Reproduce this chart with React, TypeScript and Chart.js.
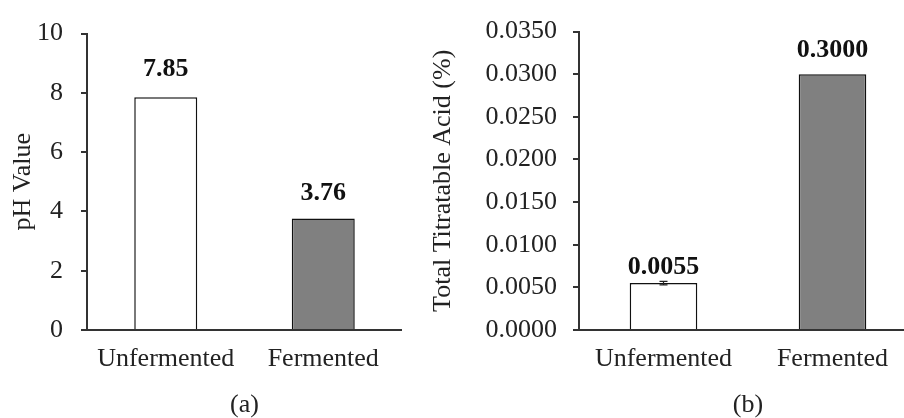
import React, { useEffect, useRef } from "react";
import { Chart, registerables } from "chart.js";

Chart.register(...registerables);

const categories = ["Unfermented", "Fermented"];
const phValues = [7.85, 3.76];
const phLabels = ["7.85", "3.76"];
const ttaValues = [0.0055, 0.03];
const ttaLabels = ["0.0055", "0.3000"];
const ttaErrors = [0.0002, 0];
const phAxis = { min: 0, max: 10, step: 2 };
const ttaAxis = { min: 0, max: 0.035, step: 0.005 };
const barColors = ["#ffffff", "#808080"];

const FONT = "'Liberation Serif', 'Times New Roman', serif";
const TEXT = "#222222";
const AXIS = "#333333";

const overlayPlugin = {
  id: "overlay",
  afterDatasetsDraw(chart: any, _args: any, opts: any) {
    const ctx = chart.ctx;
    const meta = chart.getDatasetMeta(0);
    const yScale = chart.scales.y;
    const area = chart.chartArea;
    ctx.save();
    // x axis line extended left by the tick length
    ctx.strokeStyle = AXIS;
    ctx.lineWidth = 2;
    ctx.beginPath();
    ctx.moveTo(area.left - 6, area.bottom);
    ctx.lineTo(area.right, area.bottom);
    ctx.stroke();
    // error bars
    const errs: number[] = opts.errors || [];
    const vals: number[] = chart.data.datasets[0].data;
    ctx.lineWidth = 1.2;
    ctx.strokeStyle = "#222";
    meta.data.forEach((bar: any, i: number) => {
      const e = errs[i];
      if (!e) return;
      const yTop = yScale.getPixelForValue(vals[i] + e);
      const yBot = yScale.getPixelForValue(vals[i] - e);
      ctx.beginPath();
      ctx.moveTo(bar.x, yTop);
      ctx.lineTo(bar.x, yBot);
      ctx.moveTo(bar.x - 4, yTop);
      ctx.lineTo(bar.x + 4, yTop);
      ctx.moveTo(bar.x - 4, yBot);
      ctx.lineTo(bar.x + 4, yBot);
      ctx.stroke();
    });
    // value labels
    ctx.fillStyle = "#111";
    ctx.font = `bold 26px ${FONT}`;
    ctx.textAlign = "center";
    ctx.textBaseline = "middle";
    meta.data.forEach((bar: any, i: number) => {
      ctx.fillText(opts.labels[i], bar.x, bar.y - opts.offsets[i]);
    });
    ctx.restore();
  },
};

function makeConfig(p: {
  values: number[];
  labels: string[];
  errors: number[];
  offsets: number[];
  axis: { min: number; max: number; step: number };
  decimals: number;
  yTitle: string;
  xTitle: string;
  yWidth: number;
  pad: { left: number; right: number; top: number; bottom: number };
  tickPad: number;
}) {
  return {
    type: "bar" as const,
    data: {
      labels: categories,
      datasets: [
        {
          data: p.values,
          backgroundColor: barColors,
          borderColor: "#111111",
          borderWidth: 1.5,
          barPercentage: 0.4,
          categoryPercentage: 1,
        },
      ],
    },
    options: {
      responsive: false,
      animation: false as const,
      layout: { padding: p.pad },
      plugins: {
        legend: { display: false },
        tooltip: { enabled: false },
        overlay: { labels: p.labels, errors: p.errors, offsets: p.offsets },
      },
      scales: {
        x: {
          grid: { display: false, drawTicks: false },
          border: { display: false },
          ticks: {
            color: TEXT,
            font: { family: FONT, size: 26 },
            padding: 14,
            maxRotation: 0,
          },
          title: {
            display: true,
            text: p.xTitle,
            color: TEXT,
            font: { family: FONT, size: 26, lineHeight: 1 },
            padding: { top: 0, bottom: 0 },
          },
          afterFit: (s: any) => {
            s.height = 88;
          },
        },
        y: {
          min: p.axis.min,
          max: p.axis.max,
          grid: {
            drawOnChartArea: false,
            drawTicks: true,
            tickLength: 6,
            color: AXIS,
            lineWidth: 2,
          },
          border: { display: true, color: AXIS, width: 2 },
          ticks: {
            stepSize: p.axis.step,
            color: TEXT,
            font: { family: FONT, size: 26 },
            padding: p.tickPad,
            callback: (v: any) => Number(v).toFixed(p.decimals),
          },
          title: {
            display: true,
            text: p.yTitle,
            color: TEXT,
            font: { family: FONT, size: 26, lineHeight: 1.2 },
            padding: { top: 8, bottom: 0 },
          },
          afterFit: (s: any) => {
            s.width = p.yWidth;
          },
        },
      },
    },
    plugins: [overlayPlugin],
  };
}

function BarPanel(props: { left: number; width: number; cfg: any }) {
  const ref = useRef<HTMLCanvasElement | null>(null);
  useEffect(() => {
    if (!ref.current) return;
    const chart = new Chart(ref.current, props.cfg);
    return () => chart.destroy();
  }, []);
  return (
    <canvas
      ref={ref}
      width={props.width}
      height={418}
      style={{ position: "absolute", left: props.left, top: 0, width: props.width, height: 418 }}
    />
  );
}

export default function App() {
  const cfgA = makeConfig({
    values: phValues,
    labels: phLabels,
    errors: [0, 0],
    offsets: [28, 25],
    axis: phAxis,
    decimals: 0,
    yTitle: "pH Value",
    xTitle: "(a)",
    yWidth: 87,
    pad: { left: 0, right: 18, top: 24, bottom: 0 },
    tickPad: 18,
  });
  const cfgB = makeConfig({
    values: ttaValues,
    labels: ttaLabels,
    errors: ttaErrors,
    offsets: [16, 24],
    axis: ttaAxis,
    decimals: 4,
    yTitle: "Total Titratable Acid (%)",
    xTitle: "(b)",
    yWidth: 159,
    pad: { left: 0, right: 23, top: 29, bottom: 0 },
    tickPad: 16,
  });
  return (
    <div
      style={{
        position: "fixed",
        left: 0,
        top: 0,
        width: 904,
        height: 418,
        overflow: "hidden",
        background: "#ffffff",
      }}
    >
      <BarPanel left={0} width={420} cfg={cfgA} />
      <BarPanel left={420} width={520} cfg={cfgB} />
    </div>
  );
}
